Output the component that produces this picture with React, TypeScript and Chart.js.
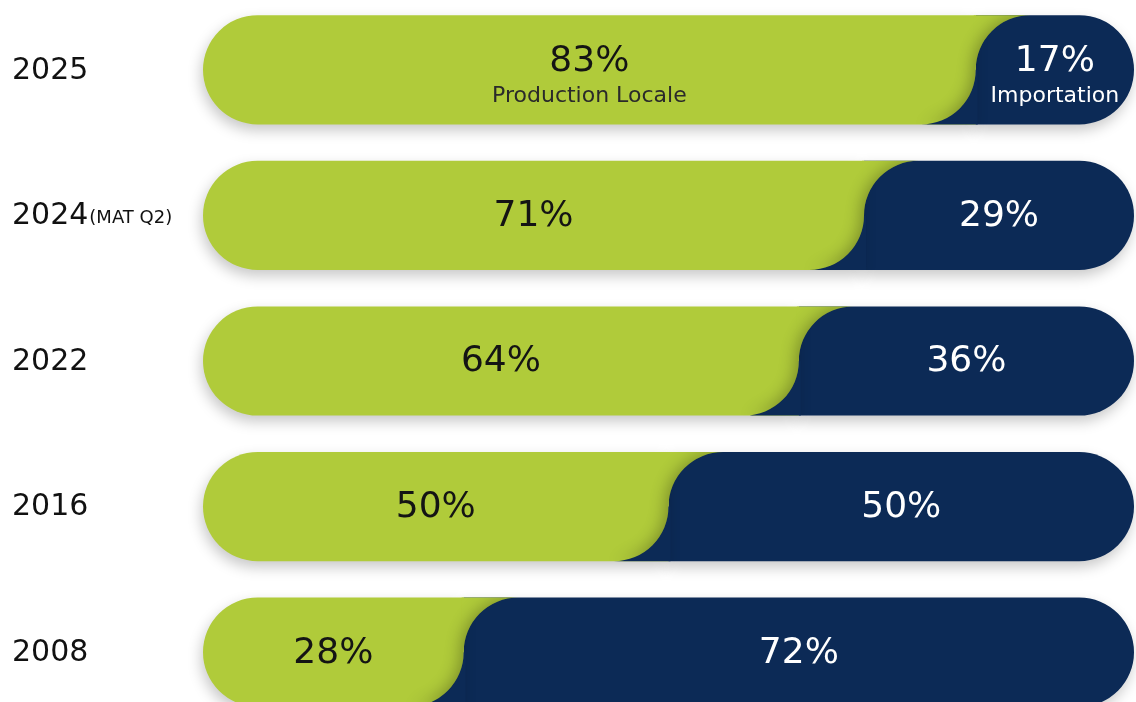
import React, { useEffect, useRef } from "react";
import { Chart, registerables } from "chart.js";

Chart.register(...registerables);

const categories = ["2025", "2024", "2022", "2016", "2008"];
const categoryNotes = ["", "(MAT Q2)", "", "", ""];
const productionLocale = [83, 71, 64, 50, 28];
const importation = [17, 29, 36, 50, 72];
const productionLabel = "Production Locale";
const importationLabel = "Importation";

const GREEN = "#B0CB3A";
const NAVY = "#0C2A56";
const FONT = "'DejaVu Sans', 'Open Sans', sans-serif";

function navySide(ctx: any, x: number, y: number, r: number, ext: number) {
  const top = y - r;
  const bottom = y + r;
  ctx.beginPath();
  ctx.moveTo(x + r, top);
  ctx.arc(x + r, y, r, -Math.PI / 2, Math.PI, true);
  ctx.arc(x - r, y, r, 0, Math.PI / 2, false);
  ctx.lineTo(x + r + ext, bottom);
  ctx.lineTo(x + r + ext, top);
  ctx.closePath();
}
function greenSide(ctx: any, x: number, y: number, r: number, ext: number) {
  const top = y - r;
  const bottom = y + r;
  ctx.beginPath();
  ctx.moveTo(x - r - ext, top);
  ctx.lineTo(x + r, top);
  ctx.arc(x + r, y, r, -Math.PI / 2, Math.PI, true);
  ctx.arc(x - r, y, r, 0, Math.PI / 2, false);
  ctx.lineTo(x - r - ext, bottom);
  ctx.closePath();
}

const junctionPlugin = {
  id: "junction",
  beforeDatasetsDraw(chart: any) {
    const ctx = chart.ctx;
    ctx.save();
    ctx.shadowColor = "rgba(0,0,0,0.22)";
    ctx.shadowBlur = 14;
    ctx.shadowOffsetX = -2;
    ctx.shadowOffsetY = 6;
  },
  afterDatasetsDraw(chart: any) {
    const ctx = chart.ctx;
    ctx.restore();
    const gMeta = chart.getDatasetMeta(0);
    const nMeta = chart.getDatasetMeta(1);
    const yScale = chart.scales.y;
    gMeta.data.forEach((el: any, i: number) => {
      const p = el.getProps(["x", "y", "base", "height"], true);
      const n = nMeta.data[i].getProps(["x", "y", "base", "height"], true);
      const h = p.height;
      const r = h / 2;
      const x = p.x;
      const y = p.y;
      const top = y - r;
      const bottom = y + r;

      ctx.save();
      ctx.beginPath();
      ctx.moveTo(x - 2, top);
      ctx.lineTo(x + r, top);
      ctx.arc(x + r, y, r, -Math.PI / 2, Math.PI, true);
      ctx.lineTo(x - 2, y);
      ctx.closePath();
      ctx.fillStyle = GREEN;
      ctx.fill();
      ctx.beginPath();
      ctx.moveTo(x, y);
      ctx.arc(x - r, y, r, 0, Math.PI / 2, false);
      ctx.lineTo(x + 2, bottom);
      ctx.lineTo(x + 2, y);
      ctx.closePath();
      ctx.fillStyle = NAVY;
      ctx.fill();
      ctx.restore();

      ctx.save();
      greenSide(ctx, x, y, r, 40);
      ctx.clip();
      ctx.shadowColor = "rgba(0,0,0,0.3)";
      ctx.shadowBlur = 16;
      ctx.shadowOffsetX = -2000 - 3;
      ctx.shadowOffsetY = 0;
      ctx.translate(2000, 0);
      navySide(ctx, x, y, r, 40);
      ctx.fillStyle = "#000";
      ctx.fill();
      ctx.restore();

      const gx = (p.base + p.x) / 2;
      const nx = (n.base + n.x) / 2;
      ctx.save();
      ctx.textAlign = "center";
      ctx.textBaseline = "middle";
      const big = "400 36px " + FONT;
      const small = "400 22px " + FONT;
      if (i === 0) {
        ctx.fillStyle = "#141414";
        ctx.font = big;
        ctx.fillText(productionLocale[i] + "%", gx, y - 8);
        ctx.font = small;
        ctx.fillStyle = "#2a2a2a";
        ctx.fillText(productionLabel, gx, y + 26);
        ctx.fillStyle = "#ffffff";
        ctx.font = big;
        ctx.fillText(importation[i] + "%", nx, y - 8);
        ctx.font = small;
        ctx.fillText(importationLabel, nx, y + 26);
      } else {
        ctx.fillStyle = "#141414";
        ctx.font = big;
        ctx.fillText(productionLocale[i] + "%", gx, y + 1);
        ctx.fillStyle = "#ffffff";
        ctx.fillText(importation[i] + "%", nx, y + 1);
      }
      ctx.restore();

      const cy = yScale.getPixelForValue(i);
      ctx.save();
      ctx.textAlign = "left";
      ctx.textBaseline = "middle";
      ctx.fillStyle = "#111111";
      ctx.font = "400 30px " + FONT;
      ctx.fillText(categories[i], 12, cy + 1);
      if (categoryNotes[i]) {
        const w = ctx.measureText(categories[i]).width;
        ctx.font = "400 18px " + FONT;
        ctx.fillText(categoryNotes[i], 12 + w + 1, cy + 3);
      }
      ctx.restore();
    });
  },
};

export default function App() {
  const ref = useRef<HTMLCanvasElement>(null);
  useEffect(() => {
    document.body.style.margin = "0";
    document.body.style.overflow = "hidden";
    document.body.style.background = "#ffffff";
    const chart = new Chart(ref.current!, {
      type: "bar",
      data: {
        labels: categories,
        datasets: [
          {
            label: productionLabel,
            data: productionLocale,
            backgroundColor: GREEN,
            borderSkipped: false,
            borderRadius: { topLeft: 60, bottomLeft: 60, topRight: 0, bottomRight: 0 },
            categoryPercentage: 1,
            barPercentage: 0.75,
            clip: false as any,
          },
          {
            label: importationLabel,
            data: importation,
            backgroundColor: NAVY,
            borderSkipped: false,
            borderRadius: { topLeft: 0, bottomLeft: 0, topRight: 60, bottomRight: 60 },
            categoryPercentage: 1,
            barPercentage: 0.75,
            clip: false as any,
          },
        ],
      },
      options: {
        indexAxis: "y",
        animation: false,
        responsive: true,
        maintainAspectRatio: false,
        layout: { padding: { left: 203, right: 2, top: 0, bottom: 0 } },
        scales: {
          x: { stacked: true, min: 0, max: 100, display: false },
          y: { stacked: true, display: false },
        },
        plugins: {
          legend: { display: false },
          tooltip: { enabled: false },
        },
      },
      plugins: [junctionPlugin],
    } as any);
    return () => chart.destroy();
  }, []);
  return (
    <div style={{ position: "fixed", left: 0, top: 0, width: 1136, height: 702, overflow: "hidden", background: "#fff" }}>
      <div style={{ position: "absolute", left: 0, top: -3, width: 1136, height: 728 }}>
        <canvas ref={ref} />
      </div>
    </div>
  );
}
